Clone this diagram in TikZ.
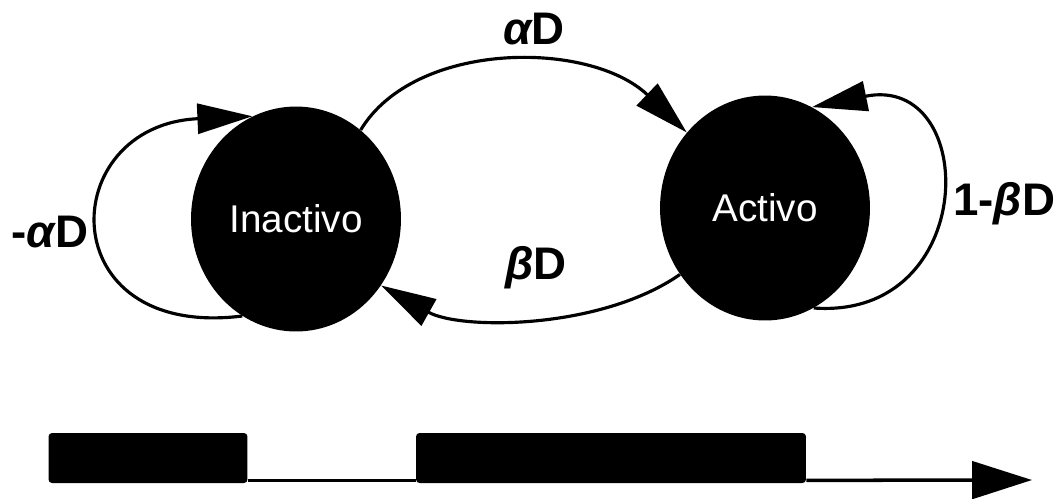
\documentclass[tikz,border=0pt]{standalone}
\usepackage{fontspec}
\setmainfont{Liberation Sans}
\usetikzlibrary{arrows.meta,shapes.geometric}

\tikzset{
  state/.style={ellipse, fill=black, inner sep=0pt, minimum width=4.2cm,
    minimum height=4.5cm, text=white, font=\fontsize{22}{26}\selectfont},
  trans/.style={line width=1.8pt, -{Triangle[length=1.1cm,width=0.6cm]}},
  rate/.style={font=\fontsize{26}{30}\selectfont\bfseries},
  bar/.style={fill=black, rounded corners=2pt, minimum height=1cm, inner sep=0pt},
}

\begin{document}
\begin{tikzpicture}[x=0.02cm, y=-0.02cm]
    \useasboundingbox (0,0) rectangle (1064,498);

    % States
    \node[state] (inact) at (296,219) {Inactivo};
    \node[state] (act) at (765,208) {Activo};

    % Transitions
    \draw[trans] (inact.54) .. controls (415,40) and (590,40) .. (act.136);
    \draw[trans] (act.218) .. controls (600,330) and (460,330) .. (inact.-38);
    \draw[trans] (inact.241) .. controls (50,340) and (55,125) .. (inact.113);
    \draw[trans] (act.-64) .. controls (980,320) and (980,73) .. (act.65);

    % Rates
    \node[rate] (ra) at (534,29) {{\itshape α}D};
    \node[rate] (rb) at (536,268) {{\itshape β}D};
    \node[rate] (rs) at (50,232) {-{\itshape α}D};
    \node[rate] (rt) at (1004,204) {1-{\itshape β}D};

    % Time line
    \node[bar, minimum width=3.98cm] (b1) at (148,458) {};
    \node[bar, minimum width=7.8cm] (b2) at (611,458) {};
    \coordinate (tend) at (1032,480);
    \draw[line width=2pt] ([yshift=0.06cm]b1.south east) -- ([yshift=0.06cm]b2.south west);
    \draw[line width=2pt, -{Triangle[length=1.2cm,width=0.75cm]}]
        ([yshift=0.06cm]b2.south east) -- (tend);
\end{tikzpicture}
\end{document}
